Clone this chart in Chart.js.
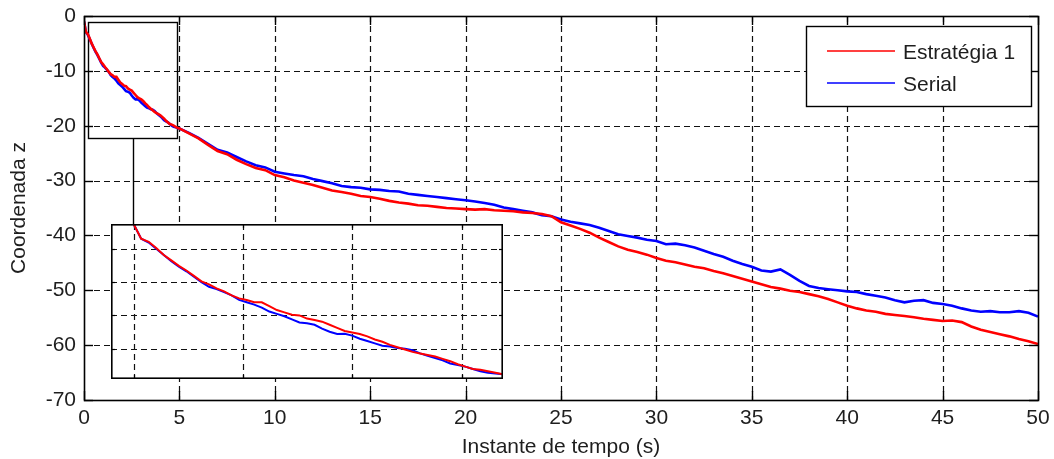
<!DOCTYPE html>
<html>
<head>
<meta charset="utf-8">
<title>Coordenada z</title>
<script src="https://cdn.jsdelivr.net/npm/chart.js@4.4.0/dist/chart.umd.min.js"></script>
<style>
  html, body { margin: 0; padding: 0; background: #fff; }
  #wrap { position: relative; width: 1054px; height: 459px; }
  #mainChart { position: absolute; left: 0; top: 0; }
  #zoomChart { position: absolute; left: 111px; top: 224px; }
</style>
</head>
<body>
<div id="wrap">
  <canvas id="mainChart" width="1054" height="459"></canvas>
  <canvas id="zoomChart" width="392" height="155"></canvas>
</div>
<script>
// time (s): fine steps during the first 5 s, then every 0.5 s
const tempo = [
  0, 0.1, 0.2, 0.3, 0.4, 0.5, 0.6, 0.7, 0.8, 0.9,
  1, 1.1, 1.2, 1.3, 1.4, 1.5, 1.6, 1.7, 1.8, 1.9,
  2, 2.1, 2.2, 2.3, 2.4, 2.5, 2.6, 2.7, 2.8, 2.9,
  3, 3.1, 3.2, 3.3, 3.4, 3.5, 3.6, 3.7, 3.8, 3.9,
  4, 4.1, 4.2, 4.3, 4.4, 4.5, 4.6, 4.7, 4.8, 4.9, 5,
  5.5, 6, 6.5, 7, 7.5, 8, 8.5, 9, 9.5, 10,
  10.5, 11, 11.5, 12, 12.5, 13, 13.5, 14, 14.5, 15,
  15.5, 16, 16.5, 17, 17.5, 18, 18.5, 19, 19.5, 20,
  20.5, 21, 21.5, 22, 22.5, 23, 23.5, 24, 24.5, 25,
  25.5, 26, 26.5, 27, 27.5, 28, 28.5, 29, 29.5, 30,
  30.5, 31, 31.5, 32, 32.5, 33, 33.5, 34, 34.5, 35,
  35.5, 36, 36.5, 37, 37.5, 38, 38.5, 39, 39.5, 40,
  40.5, 41, 41.5, 42, 42.5, 43, 43.5, 44, 44.5, 45,
  45.5, 46, 46.5, 47, 47.5, 48, 48.5, 49, 49.5, 50
];

const estrategia1 = [
  -1.0, -2.9, -3.3, -4.1, -5.0, -5.7, -6.4, -7.0, -7.7, -8.4,
  -8.8, -9.3, -9.7, -10.2, -10.6, -10.8, -11.1, -11.1, -11.6, -12.1,
  -12.4, -12.7, -12.8, -13.2, -13.4, -13.6, -14.0, -14.4, -14.8, -15.0,
  -15.2, -15.5, -15.9, -16.2, -16.6, -16.9, -17.2, -17.5, -17.7, -17.9,
  -18.1, -18.4, -18.7, -19.1, -19.4, -19.7, -19.8, -20.0, -20.2, -20.4, -20.5,
  -21.4, -22.3, -23.5, -24.6, -25.2, -26.2, -27.0, -27.7, -28.1, -29.0,
  -29.4, -30.0, -30.4, -30.8, -31.3, -31.8, -32.1, -32.4, -32.8, -33.0,
  -33.3, -33.7, -34.0, -34.2, -34.5, -34.6, -34.8, -35.0, -35.1, -35.2,
  -35.3, -35.2, -35.4, -35.5, -35.6, -35.8, -35.9, -36.1, -36.5, -37.6,
  -38.2, -38.8, -39.5, -40.4, -41.2, -42.0, -42.6, -43.0, -43.5, -44.1,
  -44.6, -44.9, -45.3, -45.7, -46.0, -46.5, -46.9, -47.4, -47.9, -48.4,
  -48.9, -49.4, -49.7, -50.1, -50.3, -50.7, -51.1, -51.6, -52.2, -52.8,
  -53.3, -53.7, -53.9, -54.3, -54.5, -54.7, -54.9, -55.2, -55.4, -55.6,
  -55.5, -55.8, -56.6, -57.2, -57.6, -58.0, -58.4, -58.9, -59.3, -59.8
];

const serial = [
  -1.0, -2.9, -3.4, -4.2, -5.0, -5.8, -6.5, -7.1, -7.8, -8.5,
  -9.1, -9.4, -9.8, -10.2, -10.8, -11.1, -11.4, -11.8, -12.3, -12.6,
  -12.9, -13.3, -13.7, -13.8, -14.0, -14.5, -14.9, -15.2, -15.15, -15.4,
  -15.8, -16.1, -16.4, -16.7, -16.8, -17.0, -17.1, -17.3, -17.7, -18.0,
  -18.3, -18.6, -19.0, -19.2, -19.4, -19.7, -20.0, -20.2, -20.3, -20.4, -20.5,
  -21.3, -22.2, -23.3, -24.4, -24.9, -25.7, -26.5, -27.2, -27.6, -28.4,
  -28.7, -29.0, -29.2, -29.7, -30.1, -30.5, -31.0, -31.2, -31.3, -31.6,
  -31.7, -31.9, -32.0, -32.4, -32.6, -32.8, -33.0, -33.2, -33.4, -33.6,
  -33.8, -34.1, -34.4, -34.9, -35.2, -35.5, -35.8, -36.3, -36.5, -37.1,
  -37.5, -37.8, -38.1, -38.6, -39.2, -39.8, -40.1, -40.4, -40.8, -41.0,
  -41.6, -41.5, -41.8, -42.2, -42.8, -43.4, -43.9, -44.6, -45.2, -45.7,
  -46.4, -46.6, -46.2, -47.2, -48.3, -49.2, -49.6, -49.8, -50.0, -50.2,
  -50.3, -50.7, -51.0, -51.3, -51.8, -52.2, -51.9, -51.8, -52.3, -52.5,
  -52.8, -53.3, -53.7, -53.9, -53.8, -54.0, -54.0, -53.8, -54.1, -54.8
];

const xTicks = [0, 5, 10, 15, 20, 25, 30, 35, 40, 45, 50];
const yTicks = [0, -10, -20, -30, -40, -50, -60, -70];

// detail window: region marked on the main axes and limits of the inset axes
const zoomMark = { x0: 0.2, x1: 4.9, y0: -22.2, y1: -1.1, link: 2.57 };
const zoomLimits = { x0: -0.3, x1: 4.9, y0: -21, y1: -1 };
const zoomGridX = [0, 1.45, 2.9, 4.35];
const zoomGridY = [-4.2, -8.5, -12.8, -17.1];

const FONT = { family: "'Liberation Sans', Arial, sans-serif", size: 21 };
const TEXT = '#1e1e1e';

function pairs(values, maxT) {
  const out = [];
  tempo.forEach((t, i) => { if (maxT === undefined || t <= maxT) out.push({ x: t, y: values[i] }); });
  return out;
}

function seg(ctx, x1, y1, x2, y2) {
  ctx.beginPath();
  ctx.moveTo(x1, y1);
  ctx.lineTo(x2, y2);
  ctx.stroke();
}

const snap = v => Math.round(v) + 0.5;

// dashed grid, marked region and link line under the curves
const mainDecor = {
  id: 'mainDecor',
  beforeDatasetsDraw(chart) {
    const { ctx, chartArea: a, scales: { x, y } } = chart;
    ctx.save();
    ctx.strokeStyle = '#111';
    ctx.lineWidth = 1.2;
    ctx.setLineDash([6, 4]);
    xTicks.slice(1, -1).forEach(v => {
      const px = snap(x.getPixelForValue(v));
      seg(ctx, px, a.top, px, a.bottom);
    });
    yTicks.slice(1, -1).forEach(v => {
      const py = snap(y.getPixelForValue(v));
      seg(ctx, a.left, py, a.right, py);
    });
    ctx.setLineDash([]);

    ctx.strokeStyle = '#000';
    ctx.lineWidth = 1.4;
    const rx0 = snap(x.getPixelForValue(zoomMark.x0));
    const rx1 = snap(x.getPixelForValue(zoomMark.x1));
    const ry0 = snap(y.getPixelForValue(zoomMark.y1));
    const ry1 = snap(y.getPixelForValue(zoomMark.y0));
    ctx.strokeRect(rx0, ry0, rx1 - rx0, ry1 - ry0);
    const inset = document.getElementById('zoomChart');
    const lx = snap(x.getPixelForValue(zoomMark.link));
    seg(ctx, lx, ry1, lx, inset.offsetTop);
    ctx.restore();
  },
  afterDatasetsDraw(chart) {
    const { ctx, chartArea: a, scales: { x, y } } = chart;
    ctx.save();
    ctx.strokeStyle = '#000';
    ctx.lineWidth = 1.4;
    const tl = 9;
    xTicks.forEach(v => {
      const px = snap(x.getPixelForValue(v));
      seg(ctx, px, a.bottom, px, a.bottom - tl);
      seg(ctx, px, a.top, px, a.top + tl);
    });
    yTicks.forEach(v => {
      const py = snap(y.getPixelForValue(v));
      seg(ctx, a.left, py, a.left + tl, py);
      seg(ctx, a.right, py, a.right - tl, py);
    });
    ctx.lineWidth = 1.6;
    ctx.strokeRect(snap(a.left), snap(a.top), Math.round(a.right - a.left), Math.round(a.bottom - a.top));

    // legend box
    const box = { left: 806.5, top: 26.5, w: 225, h: 80 };
    ctx.fillStyle = '#fff';
    ctx.fillRect(box.left, box.top, box.w, box.h);
    ctx.lineWidth = 1.4;
    ctx.strokeRect(box.left, box.top, box.w, box.h);
    ctx.font = `${FONT.size}px ${FONT.family}`;
    ctx.textBaseline = 'alphabetic';
    ctx.textAlign = 'left';
    const rows = [59, 91];
    chart.data.datasets.forEach((ds, i) => {
      const base = rows[i];
      ctx.strokeStyle = ds.borderColor;
      ctx.lineWidth = 1.5;
      seg(ctx, 827, base - 8, 895, base - 8);
      ctx.fillStyle = TEXT;
      ctx.fillText(ds.label, 903, base);
    });
    ctx.restore();
  }
};

new Chart(document.getElementById('mainChart'), {
  type: 'line',
  data: {
    datasets: [
      { label: 'Estratégia 1', data: pairs(estrategia1), borderColor: '#ff0000', borderWidth: 2.6 },
      { label: 'Serial', data: pairs(serial), borderColor: '#0000ff', borderWidth: 2.6 }
    ]
  },
  options: {
    responsive: false,
    animation: false,
    layout: { padding: { top: 16, right: 16, left: 0, bottom: 0 } },
    elements: { point: { radius: 0 }, line: { tension: 0 } },
    plugins: { legend: { display: false }, tooltip: { enabled: false } },
    scales: {
      x: {
        type: 'linear',
        min: 0,
        max: 50,
        afterBuildTicks: s => { s.ticks = xTicks.map(v => ({ value: v })); },
        afterFit: s => { s.height = 59; s.paddingLeft = 0; s.paddingRight = 0; },
        grid: { display: false, drawTicks: false },
        border: { display: false },
        ticks: { color: TEXT, font: FONT, padding: 6, maxRotation: 0, autoSkip: false, callback: v => String(v) },
        title: {
          display: true, text: 'Instante de tempo (s)', color: TEXT,
          font: { ...FONT, lineHeight: 1.1 }, padding: { top: 0, bottom: 0 }
        }
      },
      y: {
        type: 'linear',
        min: -70,
        max: 0,
        afterBuildTicks: s => { s.ticks = yTicks.map(v => ({ value: v })); },
        afterFit: s => { s.width = 84; s.paddingTop = 0; s.paddingBottom = 0; },
        grid: { display: false, drawTicks: false },
        border: { display: false },
        ticks: { color: TEXT, font: FONT, padding: 8, autoSkip: false, callback: v => String(v) },
        title: { display: true, text: 'Coordenada z', color: TEXT, font: FONT, padding: { top: 7, bottom: 0 } }
      }
    }
  },
  plugins: [mainDecor]
});

// inset axes: white panel, dashed grid and frame
const zoomDecor = {
  id: 'zoomDecor',
  beforeDraw(chart) {
    const { ctx, width, height } = chart;
    ctx.save();
    ctx.fillStyle = '#fff';
    ctx.fillRect(0, 0, width, height);
    ctx.restore();
  },
  beforeDatasetsDraw(chart) {
    const { ctx, chartArea: a, scales: { x, y } } = chart;
    ctx.save();
    ctx.strokeStyle = '#111';
    ctx.lineWidth = 1.2;
    ctx.setLineDash([6, 4]);
    zoomGridX.forEach(v => {
      const px = snap(x.getPixelForValue(v));
      seg(ctx, px, a.top, px, a.bottom);
    });
    zoomGridY.forEach(v => {
      const py = snap(y.getPixelForValue(v));
      seg(ctx, a.left, py, a.right, py);
    });
    ctx.setLineDash([]);
    ctx.strokeStyle = '#000';
    ctx.lineWidth = 1.2;
    zoomGridX.forEach(v => {
      const px = snap(x.getPixelForValue(v));
      seg(ctx, px, a.bottom, px, a.bottom - 4);
      seg(ctx, px, a.top, px, a.top + 4);
    });
    zoomGridY.forEach(v => {
      const py = snap(y.getPixelForValue(v));
      seg(ctx, a.left, py, a.left + 4, py);
      seg(ctx, a.right, py, a.right - 4, py);
    });
    ctx.restore();
  },
  afterDatasetsDraw(chart) {
    const { ctx, width, height } = chart;
    ctx.save();
    ctx.strokeStyle = '#000';
    ctx.lineWidth = 1.6;
    ctx.strokeRect(0.8, 0.8, width - 1.6, height - 1.6);
    ctx.restore();
  }
};

new Chart(document.getElementById('zoomChart'), {
  type: 'line',
  data: {
    datasets: [
      { label: 'Estratégia 1', data: pairs(estrategia1, 5.5), borderColor: '#ff0000', borderWidth: 2 },
      { label: 'Serial', data: pairs(serial, 5.5), borderColor: '#0000ff', borderWidth: 2 }
    ]
  },
  options: {
    responsive: false,
    animation: false,
    layout: { padding: 0 },
    elements: { point: { radius: 0 }, line: { tension: 0 } },
    plugins: { legend: { display: false }, tooltip: { enabled: false } },
    scales: {
      x: { type: 'linear', display: false, min: zoomLimits.x0, max: zoomLimits.x1 },
      y: { type: 'linear', display: false, min: zoomLimits.y0, max: zoomLimits.y1 }
    }
  },
  plugins: [zoomDecor]
});
</script>
</body>
</html>
